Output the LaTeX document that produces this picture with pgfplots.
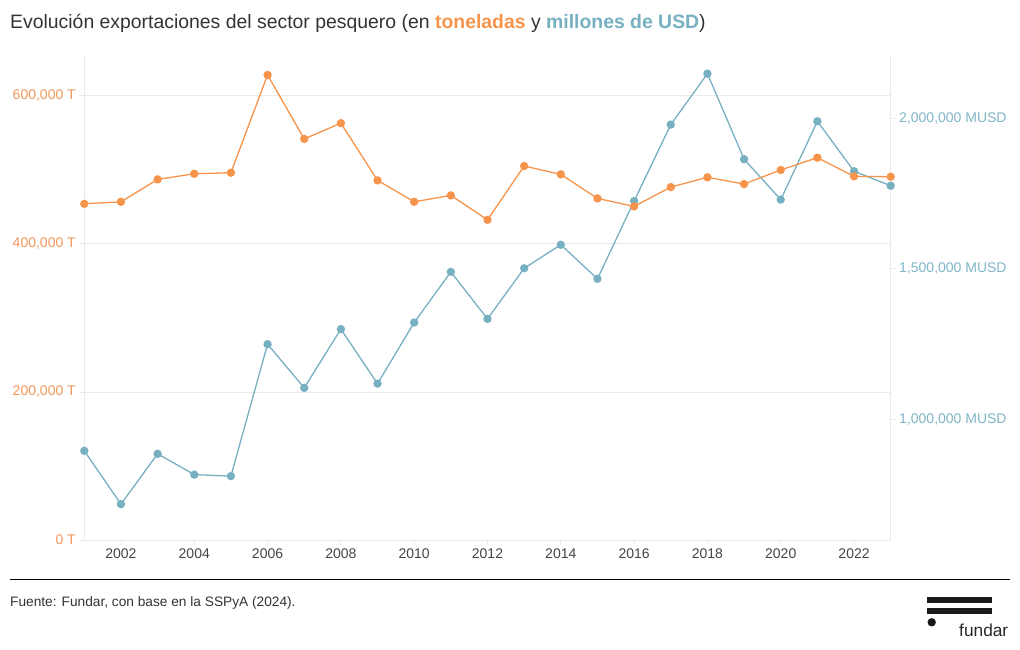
\documentclass[border=0pt]{standalone}
\usepackage{pgfplots}
\pgfplotsset{compat=1.18}
\usepackage{fontspec}
\setmainfont{Liberation Sans}
\definecolor{cor}{RGB}{247,148,76}
\definecolor{cbl}{RGB}{118,176,193}
\definecolor{corl}{RGB}{242,150,90}
\definecolor{cbll}{RGB}{127,181,197}
\definecolor{grd}{RGB}{234,234,234}
\definecolor{ttl}{RGB}{51,51,51}
\definecolor{xtl}{RGB}{68,68,68}
\begin{document}
\begin{tikzpicture}[x=1pt,y=1pt]
\path[use as bounding box] (0,0) rectangle (1020,650);
\node[anchor=base west, inner sep=0, text=ttl, font=\fontsize{19.4}{21}\selectfont] at (10,621) {Evolución exportaciones del sector pesquero (en \textbf{\textcolor{cor}{toneladas}} y \textbf{\textcolor{cbl}{millones de USD}})};

% left axis (tonnes): grid, ticks
\begin{axis}[
  at={(84.3pt,110pt)}, anchor=south west, scale only axis,
  width=806.4pt, height=485pt,
  xmin=2001, xmax=2023, ymin=0, ymax=655000,
  axis x line*=bottom, axis y line*=left,
  axis line style={grd, line width=0.8pt, -},
  xtick={2002,2004,...,2022},
  xticklabels={2002,2004,2006,2008,2010,2012,2014,2016,2018,2020,2022},
  ytick={0,200000,400000,600000},
  yticklabels={{0 T},{200,000 T},{400,000 T},{600,000 T}},
  ymajorgrids, grid style={grd, line width=0.8pt},
  tick align=outside, major tick length=5pt, tick style={grd, line width=0.8pt},
  xticklabel style={font=\fontsize{14}{16}\selectfont, text=xtl},
  yticklabel style={font=\fontsize{14}{16}\selectfont, text=corl},
  scaled y ticks=false,
]
\addplot[draw=none] coordinates {(2001,0)};
\end{axis}

% right axis (MUSD) with blue series
\begin{axis}[
  at={(84.3pt,110pt)}, anchor=south west, scale only axis,
  width=806.4pt, height=485pt,
  xmin=2001, xmax=2023, ymin=600000, ymax=2210000,
  hide x axis, axis y line*=right,
  axis line style={grd, line width=0.8pt, -},
  ytick={1000000,1500000,2000000},
  yticklabels={{1,000,000 MUSD},{1,500,000 MUSD},{2,000,000 MUSD}},
  tick align=outside, major tick length=5pt, tick style={grd, line width=0.8pt},
  yticklabel style={font=\fontsize{14}{16}\selectfont, text=cbll},
  scaled y ticks=false, clip=false,
]
\addplot[cbl, line width=1.3pt, mark=*, mark size=3.5pt, mark options={fill=cbl, draw=none}] coordinates {
(2001,896000) (2002,719000) (2003,886000) (2004,817000) (2005,812000)
(2006,1250000) (2007,1105000) (2008,1300000) (2009,1119000) (2010,1322000)
(2011,1490000) (2012,1334000) (2013,1502000) (2014,1580000) (2015,1467000)
(2016,1725000) (2017,1979000) (2018,2148000) (2019,1864000) (2020,1730000)
(2021,1990000) (2022,1824000) (2023,1776000)
};
\end{axis}

% orange series
\begin{axis}[
  at={(84.3pt,110pt)}, anchor=south west, scale only axis,
  width=806.4pt, height=485pt,
  xmin=2001, xmax=2023, ymin=0, ymax=655000,
  hide axis, clip=false,
]
\addplot[cor, line width=1.3pt, mark=*, mark size=3.5pt, mark options={fill=cor, draw=none}] coordinates {
(2001,454000) (2002,456700) (2003,487000) (2004,494600) (2005,496000)
(2006,628000) (2007,541600) (2008,562900) (2009,485700) (2010,456700)
(2011,465400) (2012,432400) (2013,505000) (2014,493800) (2015,461300)
(2016,450500) (2017,476600) (2018,489800) (2019,480700) (2020,499700)
(2021,516300) (2022,491100) (2023,490600)
};
\end{axis}

\draw[black, line width=1pt] (10,70) -- (1010,70);
\node[anchor=base west, inner sep=0, text=ttl, font=\fontsize{13.7}{15}\selectfont] at (10,43) {Fuente: Fundar, con base en la SSPyA (2024).};
% logo
\fill[black!90] (927,46.7) rectangle (992,53.3);
\fill[black!90] (927,35.7) rectangle (992,41.7);
\fill[black!90] (931.7,27.7) circle (4.2);
\node[anchor=base west, inner sep=0, text=black!85, font=\fontsize{17.3}{19}\selectfont] at (959,13.3) {fundar};
\end{tikzpicture}
\end{document}
